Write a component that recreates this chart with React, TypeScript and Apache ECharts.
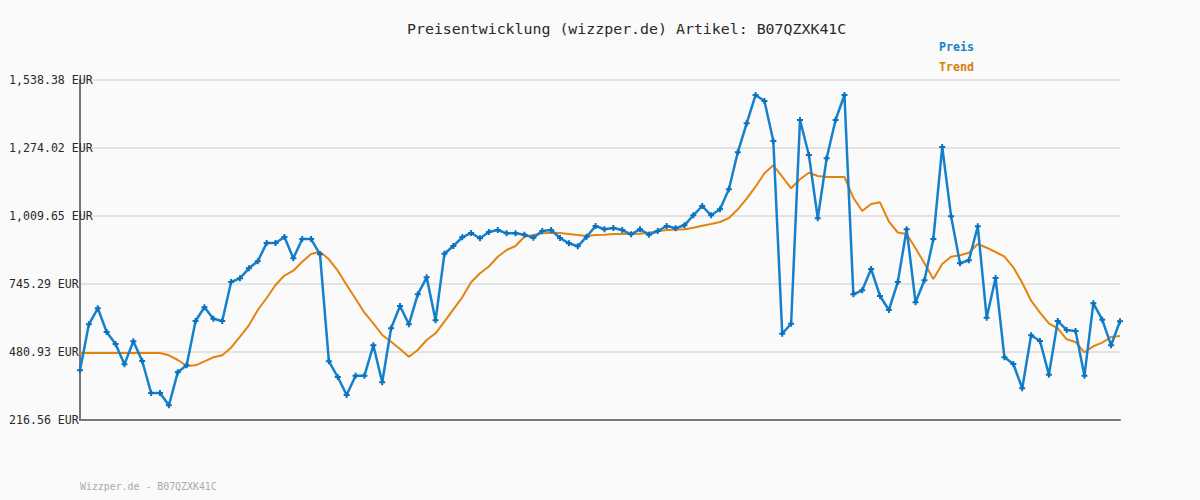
import React, { useEffect, useRef } from "react";
import * as echarts from "echarts";

const titleText = "Preisentwicklung (wizzper.de) Artikel: B07QZXK41C";
const footerText = "Wizzper.de - B07QZXK41C";
const seriesNames = ["Preis", "Trend"];
const yTickLabels = ["216.56", "480.93", "745.29", "1,009.65", "1,274.02", "1,538.38"];
const yMin = 216.56;
const yMax = 1538.38;

const preis = [
  410, 588.6, 650.8, 558.7, 512, 433, 522.5, 446, 321.5, 321.5,
  273.7, 402, 429.2, 601.4, 654.7, 610.4, 601.4, 753, 767.4, 806.3,
  833.5, 904.7, 904.7, 928, 845.2, 920.2, 920.2, 860.8, 444.8, 383.7,
  313.8, 388.8, 388.8, 507, 363.1, 573.1, 659.8, 588.6, 705.2, 771.3,
  604.2, 863.1, 893, 926.8, 943.6, 923, 947.5, 955.2, 942.4, 942.4,
  937, 925.3, 951.3, 955.2, 924.1, 903.5, 891.9, 929.2, 970.8, 958,
  963, 955.2, 938.5, 958, 937, 951.3, 970.8, 961.8, 973.5, 1012.4,
  1048.5, 1012.4, 1035.7, 1113.4, 1257.3, 1370, 1480, 1456.7, 1301.3, 552,
  590.9, 1382.9, 1246.8, 1000.7, 1234, 1382.9, 1480, 705.2, 720.8, 803.6,
  698.6, 644.2, 753, 958, 674.1, 759.7, 920.2, 1277.9, 1008.5, 825.8,
  837.4, 969.6, 614.3, 768.6, 460.3, 434.3, 339.8, 545.9, 523.7, 392.7,
  601.4, 566.5, 562.6, 388.8, 670.3, 606.5, 507, 600.3,
];

const trend = [
  477, 477, 477, 477, 477, 477, 477, 477, 477, 477,
  468.1, 449.8, 426.5, 429.2, 444.8, 460.3, 468.1, 497.7, 540.4, 584.7,
  644.2, 690.9, 741.4, 778.3, 797, 832, 861.9, 870.9, 841.3, 797,
  741.4, 688.1, 633.7, 592.5, 547, 521, 492.6, 462.7, 488.7, 527.6,
  553.6, 598.7, 646.9, 693.6, 751.9, 786.9, 813.3, 851.4, 877.5, 893,
  929.2, 935.8, 942.4, 944.7, 943.6, 939.7, 935.8, 931.9, 935.8, 937,
  939.7, 939.7, 939.7, 940.9, 944.7, 950.2, 955.2, 956.4, 958, 964.2,
  972, 978.6, 986.3, 1001.9, 1035.7, 1076.9, 1123.6, 1175.6, 1206.7, 1162.4,
  1117.4, 1152.3, 1178, 1165.2, 1161.3, 1161.3, 1161.3, 1080.8, 1029.1, 1056.3,
  1062.9, 987.5, 945.5, 939.7, 884.1, 825.8, 764.7, 823, 851.4, 856.9,
  867, 900.8, 886.4, 869.7, 851.4, 810.2, 750.3, 680.4, 633.7, 592.5,
  573.1, 530.3, 519.8, 479.8, 503.1, 517.1, 539.2, 543.1,
];

const categories = preis.map((_, i) => String(i + 1));

const BLUE = "#1581cc";
const ORANGE = "#e3840f";
const MONO = "'DejaVu Sans Mono', 'Liberation Mono', monospace";

export default function App() {
  const ref = useRef<HTMLDivElement>(null);
  useEffect(() => {
    document.body.style.margin = "0";
    const chart = echarts.init(ref.current!, undefined, { renderer: "svg" });
    chart.setOption({
      animation: false,
      backgroundColor: "#fafafa",
      title: {
        text: titleText,
        left: 402,
        top: 16,
        textStyle: { fontFamily: MONO, fontSize: 14.9, fontWeight: "normal", color: "#2a2a2a" },
      },
      legend: {
        orient: "vertical",
        left: 929,
        top: 36,
        itemGap: 8,
        itemWidth: 0,
        itemHeight: 0,
        icon: "none",
        selectedMode: false,
        data: [
          { name: seriesNames[0], textStyle: { color: "#1a7fc4" } },
          { name: seriesNames[1], textStyle: { color: "#d97c0e" } },
        ],
        textStyle: { fontFamily: MONO, fontSize: 11.6, fontWeight: "bold" },
      },
      grid: { left: 80, right: 80, top: 80, bottom: 80 },
      xAxis: {
        type: "category",
        data: categories,
        boundaryGap: false,
        axisLine: { show: true, lineStyle: { color: "#777", width: 2 } },
        axisTick: { show: false },
        axisLabel: { show: false },
        splitLine: { show: false },
      },
      yAxis: {
        type: "value",
        min: yMin,
        max: yMax,
        interval: (yMax - yMin) / 5,
        axisLine: { show: true, lineStyle: { color: "#777", width: 2 } },
        axisTick: { show: false },
        splitLine: { show: true, lineStyle: { color: "#e3e3e3", width: 2 } },
        axisLabel: {
          align: "left",
          margin: 71,
          fontFamily: MONO,
          fontSize: 11.6,
          color: "#2a2a2a",
          formatter: (_v: number, i: number) => `${yTickLabels[i]} EUR`,
        },
      },
      series: [
        {
          name: seriesNames[1],
          type: "line",
          data: trend,
          symbol: "none",
          lineStyle: { color: ORANGE, width: 2 },
          itemStyle: { color: ORANGE },
          z: 2,
        },
        {
          name: seriesNames[0],
          type: "line",
          data: preis,
          showAllSymbol: true,
          symbol: "path://M2,0h2v2h2v2h-2v2h-2v-2h-2v-2h2z",
          symbolSize: 6,
          lineStyle: { color: BLUE, width: 2.5 },
          itemStyle: { color: "#0a72bd" },
          z: 3,
        },
      ],
      graphic: [
        {
          type: "text",
          left: 80,
          top: 481,
          style: { text: footerText, fontFamily: MONO, fontSize: 9.9, fill: "#aaa" },
        },
      ],
    });
    return () => chart.dispose();
  }, []);
  return <div ref={ref} style={{ width: 1200, height: 500 }} />;
}
